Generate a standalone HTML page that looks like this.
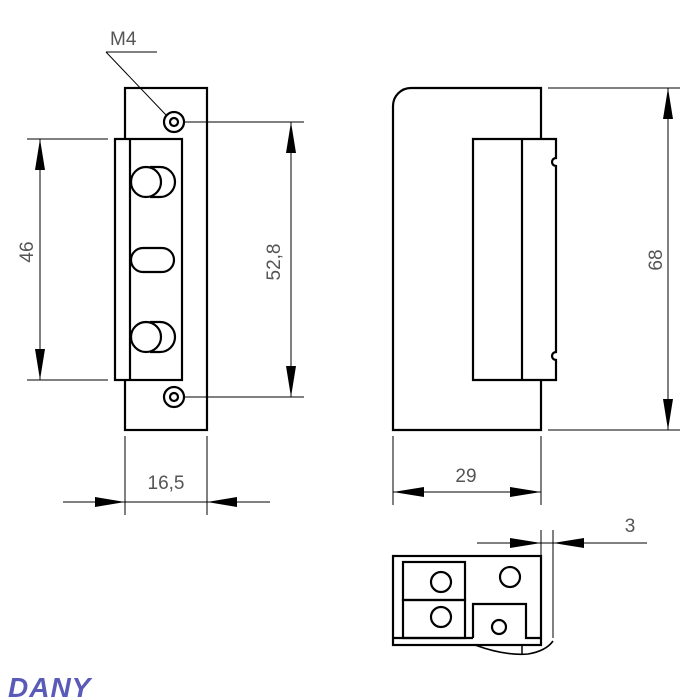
<!DOCTYPE html>
<html><head><meta charset="utf-8"><style>
html,body{margin:0;padding:0;background:#fff;}
svg{display:block;}
text{font-family:"Liberation Sans",sans-serif;fill:#555;font-size:19px;}
</style></head><body>
<svg width="700" height="700" viewBox="0 0 700 700" xmlns="http://www.w3.org/2000/svg">
<g fill="none" stroke="#000" stroke-width="2.2">
<rect x="125" y="88" width="82" height="342"/>
<rect x="115" y="139" width="67" height="241" fill="#fff"/>
<line x1="130" y1="139" x2="130" y2="380"/>
<circle cx="174" cy="122" r="10" fill="#fff"/><circle cx="174" cy="122" r="4"/>
<circle cx="174" cy="397" r="10" fill="#fff"/><circle cx="174" cy="397" r="4"/>
<path d="M150 167 h10 a15 15 0 0 1 0 30 h-10"/>
<circle cx="146" cy="182" r="15" fill="#fff"/>
<path d="M150 322 h10 a15 15 0 0 1 0 30 h-10"/>
<circle cx="146" cy="337" r="15" fill="#fff"/>
<rect x="131" y="248" width="43" height="24" rx="12"/>
<path d="M393 430 V106 a18 18 0 0 1 18 -18 H541 V430 Z"/>
<path d="M473 139 H556 V158 a4 4 0 0 0 0 8 V352 a4 4 0 0 0 0 8 V380 H473 Z" fill="#fff"/>
<line x1="522" y1="139" x2="522" y2="380"/>
<rect x="393" y="556" width="148" height="89"/>
<rect x="403" y="562" width="62" height="38"/>
<rect x="403" y="600" width="62" height="38"/>
<line x1="393" y1="638" x2="473" y2="638"/>
<path d="M473 638 V604 H526 V638 H541"/>
<circle cx="441" cy="582" r="10"/><circle cx="441" cy="617" r="10"/>
<circle cx="510" cy="577" r="10"/><circle cx="499" cy="627" r="7"/>
<path d="M475 645 Q505 656 528 654 Q546 651 553 641" stroke-width="1.6"/>
<line x1="522" y1="645" x2="522" y2="654" stroke-width="1.5"/>
</g>
<g stroke="#000" stroke-width="1">
<line x1="106" y1="52" x2="157" y2="52"/>
<line x1="106" y1="52" x2="166" y2="115"/>
<line x1="27" y1="139" x2="108" y2="139"/><line x1="27" y1="380" x2="108" y2="380"/>
<line x1="40" y1="139" x2="40" y2="380"/>
<line x1="184" y1="122" x2="304" y2="122"/><line x1="184" y1="397" x2="304" y2="397"/>
<line x1="291" y1="122" x2="291" y2="397"/>
<line x1="125" y1="436" x2="125" y2="515"/><line x1="207" y1="436" x2="207" y2="515"/>
<line x1="63" y1="502" x2="270" y2="502"/>
<line x1="548" y1="88" x2="680" y2="88"/><line x1="548" y1="430" x2="680" y2="430"/>
<line x1="668" y1="88" x2="668" y2="430"/>
<line x1="393" y1="436" x2="393" y2="505"/><line x1="541" y1="436" x2="541" y2="505"/>
<line x1="393" y1="492" x2="541" y2="492"/>
<line x1="541" y1="530" x2="541" y2="555"/><line x1="553" y1="530" x2="553" y2="638"/>
<line x1="477" y1="543" x2="647" y2="543"/>
</g>
<g fill="#000">
<polygon points="40,139 35,170 45,170"/><polygon points="40,380 35,349 45,349"/>
<polygon points="291,122 286,153 296,153"/><polygon points="291,397 286,366 296,366"/>
<polygon points="125,502 95,497 95,507"/><polygon points="207,502 237,497 237,507"/>
<polygon points="668,88 663,119 673,119"/><polygon points="668,430 663,399 673,399"/>
<polygon points="393,492 424,487 424,497"/><polygon points="541,492 510,487 510,497"/>
<polygon points="541,543 510,538 510,548"/><polygon points="553,543 584,538 584,548"/>
</g>
<text x="110" y="45">M4</text>
<text x="0" y="0" transform="translate(33,252) rotate(-90)" text-anchor="middle">46</text>
<text x="0" y="0" transform="translate(280,262) rotate(-90)" text-anchor="middle">52,8</text>
<text x="166" y="489" text-anchor="middle">16,5</text>
<text x="0" y="0" transform="translate(662,260) rotate(-90)" text-anchor="middle">68</text>
<text x="466" y="482" text-anchor="middle">29</text>
<text x="630" y="532" text-anchor="middle">3</text>
<text x="8" y="697" style="font-size:28px;font-weight:900;font-style:italic;fill:#5a5ab8;letter-spacing:1px">DANY</text>
</svg>
</body></html>
